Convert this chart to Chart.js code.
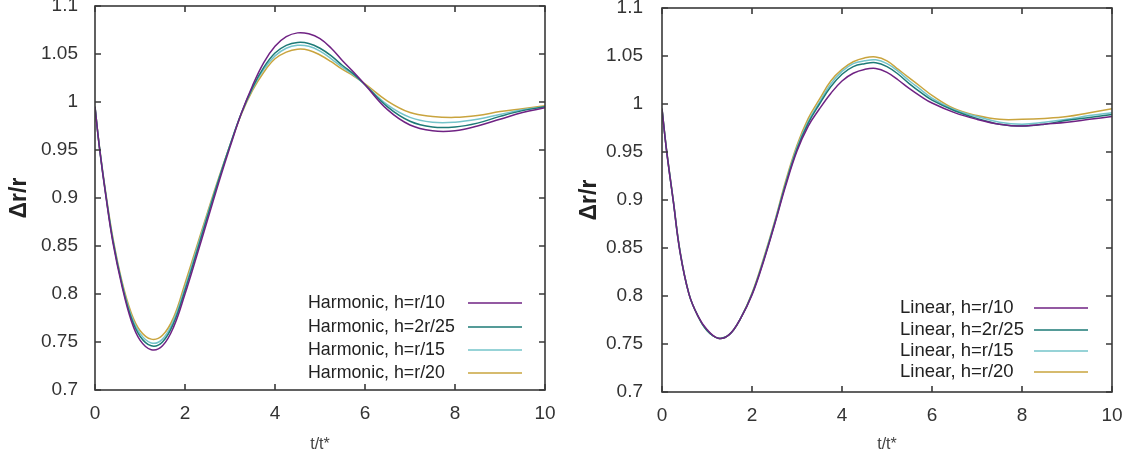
<!DOCTYPE html>
<html>
<head>
<meta charset="utf-8">
<script src="https://cdn.jsdelivr.net/npm/chart.js@4.4.1/dist/chart.umd.min.js"></script>
<style>
  body { margin: 0; background: #fff; width: 1131px; height: 462px; overflow: hidden; }
  .panel { position: absolute; top: 0; }
</style>
</head>
<body>
<div class="panel" style="left:0"><canvas id="harmonicChart" width="565" height="462"></canvas></div>
<div class="panel" style="left:565px"><canvas id="linearChart" width="566" height="462"></canvas></div>
<script>
// time axis t/t*
var tValues = [0, 0.1, 0.25, 0.4, 0.6, 0.8, 1, 1.25, 1.5, 1.75, 2, 2.25, 2.5, 2.75, 3, 3.25, 3.5, 3.75,
  4, 4.25, 4.5, 4.75, 5, 5.25, 5.5, 5.75, 6, 6.5, 7, 7.5, 8, 8.5, 9, 9.5, 10];

// left panel, harmonic
var harmonicR10 = [0.995, 0.952, 0.899, 0.853, 0.808, 0.773, 0.752, 0.742, 0.746, 0.766, 0.800, 0.838, 0.877, 0.916,
  0.953, 0.988, 1.017, 1.041, 1.058, 1.068, 1.072, 1.071, 1.066, 1.056, 1.043, 1.031, 1.018, 0.992, 0.976,
  0.970, 0.970, 0.975, 0.982, 0.989, 0.994];
var harmonic2R25 = [0.995, 0.952, 0.900, 0.855, 0.810, 0.776, 0.756, 0.746, 0.750, 0.770, 0.804, 0.842, 0.881, 0.919,
  0.955, 0.988, 1.015, 1.036, 1.051, 1.059, 1.062, 1.061, 1.056, 1.048, 1.038, 1.029, 1.018, 0.995, 0.980,
  0.974, 0.974, 0.978, 0.985, 0.991, 0.995];
var harmonicR15 = [0.995, 0.953, 0.901, 0.856, 0.811, 0.778, 0.759, 0.749, 0.753, 0.773, 0.807, 0.845, 0.883, 0.920,
  0.955, 0.988, 1.014, 1.034, 1.048, 1.056, 1.059, 1.058, 1.053, 1.045, 1.036, 1.028, 1.018, 0.997, 0.984,
  0.979, 0.979, 0.982, 0.987, 0.992, 0.995];
var harmonicR20 = [0.995, 0.953, 0.902, 0.858, 0.813, 0.781, 0.762, 0.753, 0.757, 0.776, 0.811, 0.848, 0.885, 0.921,
  0.955, 0.987, 1.012, 1.031, 1.045, 1.052, 1.055, 1.054, 1.049, 1.042, 1.034, 1.027, 1.019, 1.001, 0.989,
  0.985, 0.984, 0.986, 0.990, 0.993, 0.996];

// right panel, linear
var linearR10 = [0.995, 0.952, 0.899, 0.846, 0.802, 0.779, 0.765, 0.756, 0.760, 0.777, 0.801, 0.835, 0.874, 0.915,
  0.951, 0.977, 0.995, 1.011, 1.024, 1.032, 1.036, 1.037, 1.033, 1.025, 1.016, 1.008, 1.001, 0.991, 0.984,
  0.979, 0.977, 0.979, 0.981, 0.984, 0.987];
var linear2R25 = [0.995, 0.952, 0.899, 0.846, 0.802, 0.779, 0.764, 0.756, 0.760, 0.777, 0.802, 0.836, 0.875, 0.917,
  0.953, 0.980, 1.000, 1.018, 1.031, 1.039, 1.042, 1.043, 1.039, 1.031, 1.021, 1.012, 1.004, 0.993, 0.985,
  0.979, 0.977, 0.979, 0.983, 0.986, 0.989];
var linearR15 = [0.995, 0.953, 0.900, 0.847, 0.802, 0.779, 0.764, 0.756, 0.760, 0.777, 0.802, 0.837, 0.876, 0.918,
  0.955, 0.982, 1.002, 1.021, 1.034, 1.042, 1.045, 1.046, 1.042, 1.034, 1.024, 1.015, 1.006, 0.994, 0.987,
  0.981, 0.979, 0.981, 0.984, 0.988, 0.991];
var linearR20 = [0.995, 0.953, 0.900, 0.847, 0.802, 0.779, 0.764, 0.756, 0.760, 0.777, 0.803, 0.838, 0.877, 0.920,
  0.957, 0.985, 1.005, 1.024, 1.036, 1.044, 1.048, 1.049, 1.045, 1.036, 1.027, 1.018, 1.009, 0.995, 0.988,
  0.984, 0.984, 0.985, 0.987, 0.991, 0.995];

var harmonicLabels = ['Harmonic, h=r/10', 'Harmonic, h=2r/25', 'Harmonic, h=r/15', 'Harmonic, h=r/20'];
var linearLabels = ['Linear, h=r/10', 'Linear, h=2r/25', 'Linear, h=r/15', 'Linear, h=r/20'];
var seriesColors = ['#6f2283', '#1d7a76', '#74c4ca', '#c9a43e'];

var xTicks = [0, 2, 4, 6, 8, 10];
var yTicks = [0.7, 0.75, 0.8, 0.85, 0.9, 0.95, 1, 1.05, 1.1];

var FONT = '"Liberation Sans", Arial, sans-serif';

// gnuplot style border with inward ticks on all four sides
var framePlugin = {
  id: 'frame',
  afterDatasetsDraw: function(chart) {
    var a = chart.chartArea, ctx = chart.ctx;
    var sx = chart.scales.x, sy = chart.scales.y;
    ctx.save();
    ctx.strokeStyle = '#3a3a3a';
    ctx.lineWidth = 1.6;
    ctx.strokeRect(a.left, a.top, a.right - a.left, a.bottom - a.top);
    ctx.beginPath();
    sx.ticks.forEach(function(t) {
      var px = sx.getPixelForValue(t.value);
      ctx.moveTo(px, a.bottom); ctx.lineTo(px, a.bottom - 6);
      ctx.moveTo(px, a.top); ctx.lineTo(px, a.top + 6);
    });
    sy.ticks.forEach(function(t) {
      var py = sy.getPixelForValue(t.value);
      ctx.moveTo(a.left, py); ctx.lineTo(a.left + 6, py);
      ctx.moveTo(a.right, py); ctx.lineTo(a.right - 6, py);
    });
    ctx.stroke();
    ctx.restore();
  }
};

// key in the lower right, text then line sample
var keyPlugin = {
  id: 'key',
  afterDatasetsDraw: function(chart, args, opts) {
    var a = chart.chartArea, ctx = chart.ctx;
    ctx.save();
    ctx.font = opts.fontSize + 'px ' + FONT;
    ctx.fillStyle = '#222';
    ctx.textBaseline = 'middle';
    ctx.textAlign = 'left';
    chart.data.datasets.forEach(function(ds, i) {
      var yy = a.bottom - opts.rows[i];
      ctx.fillText(ds.label, a.right - opts.textOffset, yy);
      ctx.strokeStyle = ds.borderColor;
      ctx.lineWidth = 1.3;
      ctx.beginPath();
      ctx.moveTo(a.right - opts.lineStart, yy);
      ctx.lineTo(a.right - opts.lineEnd, yy);
      ctx.stroke();
    });
    ctx.restore();
  }
};

function makeChart(id, labels, series, cfg) {
  var datasets = series.map(function(vals, i) {
    return {
      label: labels[i],
      data: tValues.map(function(t, j) { return { x: t, y: vals[j] }; }),
      borderColor: seriesColors[i],
      borderWidth: 1.5,
      pointRadius: 0,
      fill: false,
      tension: 0.4
    };
  });
  return new Chart(document.getElementById(id), {
    type: 'line',
    data: { datasets: datasets },
    plugins: [framePlugin, keyPlugin],
    options: {
      responsive: false,
      animation: false,
      devicePixelRatio: 1,
      layout: { padding: { top: cfg.padTop, right: cfg.padRight, left: 0, bottom: 0 } },
      scales: {
        x: {
          type: 'linear',
          min: 0,
          max: 10,
          afterBuildTicks: function(s) { s.ticks = xTicks.map(function(v) { return { value: v }; }); },
          afterFit: function(s) { s.height = cfg.xAxisHeight; s.paddingLeft = 0; s.paddingRight = 0; },
          grid: { display: false, drawTicks: false },
          border: { display: false },
          ticks: { padding: 12, color: '#333', font: { family: FONT, size: 19 }, maxRotation: 0 },
          title: { display: true, text: 't/t*', color: '#444', font: { family: FONT, size: 16 }, padding: { top: 0, bottom: 8 } }
        },
        y: {
          min: 0.7,
          max: 1.1,
          afterBuildTicks: function(s) { s.ticks = yTicks.map(function(v) { return { value: v }; }); },
          afterFit: function(s) { s.width = cfg.yAxisWidth; s.paddingTop = 0; s.paddingBottom = 0; },
          grid: { display: false, drawTicks: false },
          border: { display: false },
          ticks: {
            padding: cfg.yTickPad,
            color: '#333',
            font: { family: FONT, size: 19 },
            callback: function(v) { return String(Number(v.toFixed(2))); }
          },
          title: { display: true, text: 'Δr/r', color: '#222', font: { family: FONT, size: 23, weight: 'bold' }, padding: { top: cfg.yTitlePad, bottom: 0 } }
        }
      },
      plugins: {
        legend: { display: false },
        tooltip: { enabled: false },
        key: cfg.key
      }
    }
  });
}

makeChart('harmonicChart', harmonicLabels, [harmonicR10, harmonic2R25, harmonicR15, harmonicR20], {
  padTop: 6, padRight: 20, xAxisHeight: 72, yAxisWidth: 95, yTickPad: 17, yTitlePad: 6,
  key: { fontSize: 17.8, rows: [87, 63, 40, 17], textOffset: 237, lineStart: 77, lineEnd: 23 }
});

makeChart('linearChart', linearLabels, [linearR10, linear2R25, linearR15, linearR20], {
  padTop: 8, padRight: 19, xAxisHeight: 70, yAxisWidth: 97, yTickPad: 19, yTitlePad: 11,
  key: { fontSize: 18.5, rows: [84, 62, 41, 20], textOffset: 212, lineStart: 78, lineEnd: 24 }
});
</script>
</body>
</html>
